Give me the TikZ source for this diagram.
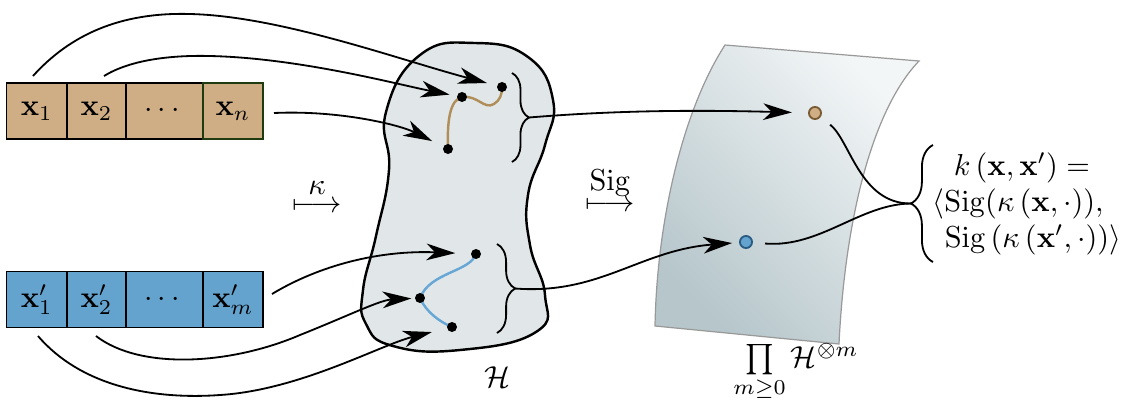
\documentclass[tikz,border=0pt]{standalone}
\usepackage{amsmath, amssymb}
\usepackage{mathtools}
\usepackage{tikz}
\usetikzlibrary{arrows.meta, decorations.pathreplacing}

\definecolor{tanfill}{RGB}{207,174,133}
\definecolor{tanline}{RGB}{176,142,90}
\definecolor{tandark}{RGB}{120,90,50}
\definecolor{bluefill}{RGB}{99,163,206}
\definecolor{blueline}{RGB}{102,167,214}
\definecolor{bluedark}{RGB}{40,90,130}
\definecolor{blobfill}{RGB}{225,230,232}
\definecolor{sheetlight}{RGB}{243,246,247}
\definecolor{sheetdark}{RGB}{182,198,203}
\definecolor{cellgreen}{RGB}{30,60,15}

\tikzset{
    cell/.style={draw, semithick, inner sep=0pt, minimum height=18.5pt},
    vertex/.style={circle, fill=black, inner sep=0pt, minimum size=3.3pt},
    arr/.style={-{Stealth[length=9.5pt, width=5.5pt, inset=2.8pt]}, semithick},
    brc/.style={decorate, decoration={brace, amplitude=#1}, semithick}
}

\begin{document}
\begin{tikzpicture}[x=0.33pt, y={(0pt,-0.33pt)}]
        \useasboundingbox (0,0) rectangle (1124,416);

        % feature space of signatures
        \path[draw=gray!80, top color=sheetlight, bottom color=sheetdark, shading angle=-45]
            (725,45) -- (919,61) .. controls (872,110) and (845,220) .. (839,344)
            -- (655,326) .. controls (657,220) and (683,110) .. (725,45) -- cycle;

        % RKHS
        \draw[thick, fill=blobfill] plot[smooth cycle, tension=0.8] coordinates {
            (475,43) (528,57) (553,100) (545,145) (528,195) (530,245) (545,295) (536,332)
            (460,350) (393,346) (366,324) (363,290) (376,236) (389,170) (386,112) (420,55)};

        % sequences
        \node[cell, fill=tanfill, minimum width=20pt]   at (36.75,111) (x1) {$\mathbf{x}_1$};
        \node[cell, fill=tanfill, minimum width=19.5pt] at (96.5,111)  (x2) {$\mathbf{x}_2$};
        \node[cell, fill=tanfill, minimum width=25.4pt] at (164.5,111) (xd) {$\cdots$};
        \node[cell, fill=tanfill, minimum width=19.8pt, draw=cellgreen] at (233,111) (xn) {$\mathbf{x}_n$};

        \node[cell, fill=bluefill, minimum width=20pt]   at (36.75,299.5) (y1) {$\mathbf{x}'_1$};
        \node[cell, fill=bluefill, minimum width=19.5pt] at (96.5,299.5)  (y2) {$\mathbf{x}'_2$};
        \node[cell, fill=bluefill, minimum width=25.4pt] at (164.5,299.5) (yd) {$\cdots$};
        \node[cell, fill=bluefill, minimum width=19.8pt] at (233,299.5)   (ym) {$\mathbf{x}'_m$};

        % lifted paths
        \coordinate (pa) at (462,97);
        \coordinate (pb) at (502,87);
        \coordinate (pc) at (448,149);
        \coordinate (qd) at (476,254);
        \coordinate (qe) at (420,298);
        \coordinate (qf) at (452,327);
        \draw[tanline, thick] (pc) .. controls (447,120) and (450,100) .. (pa)
            .. controls (478,95) and (484,110) .. (494,104) .. controls (500,100) and (502,95) .. (pb);
        \draw[blueline, thick] (qd) .. controls (470,272) and (430,272) .. (qe)
            .. controls (426,312) and (440,322) .. (qf);
        \node[vertex] at (pa) (a) {};
        \node[vertex] at (pb) (b) {};
        \node[vertex] at (pc) (c) {};
        \node[vertex] at (qd) (d) {};
        \node[vertex] at (qe) (e) {};
        \node[vertex] at (qf) (f) {};

        % braces
        \draw[brc=5.6pt] (512,73) -- (512,162);
        \draw[brc=6pt] (497,244) -- (497,333);
        \draw[brc=7.3pt] (933,262) -- (933,145);
        \coordinate (ubr) at (529,117.5);
        \coordinate (lbr) at (515,288.5);
        \coordinate (kbr) at (911,203.5);

        % points in the feature space
        \node[circle, inner sep=0pt, minimum size=4pt, fill=tanfill, draw=tandark, semithick] at (815,113) (sx) {};
        \node[circle, inner sep=0pt, minimum size=4pt, fill=bluefill, draw=bluedark, semithick] at (746,242) (sy) {};

        % embedding arrows
        \coordinate (s1) at (33,76);
        \coordinate (s2) at (104,76);
        \coordinate (s3) at (274,113);
        \coordinate (s4) at (272,294);
        \coordinate (s5) at (96,336);
        \coordinate (s6) at (38,336);
        \draw[arr, shorten >=3.3pt] (s1) .. controls (70,35) and (120,12) .. (190,14)
            .. controls (280,16) and (400,60) .. (b);
        \draw[arr, shorten >=2.3pt] (s2) .. controls (130,60) and (170,55) .. (210,56)
            .. controls (300,58) and (400,85) .. (a);
        \draw[arr, shorten >=4pt] (s3) .. controls (340,110) and (400,125) .. (c);
        \draw[arr, shorten >=5pt] (s4) .. controls (320,265) and (380,250) .. (d);
        \draw[arr, shorten >=1pt] (s5) .. controls (140,370) and (230,365) .. (300,335)
            .. controls (350,315) and (380,300) .. (e);
        \draw[arr, shorten >=5pt] (s6) .. controls (80,385) and (150,400) .. (220,395)
            .. controls (300,390) and (380,345) .. (f);

        \draw[arr, shorten >=5.3pt] (ubr) .. controls (620,110) and (700,110) .. (sx);
        \draw[arr, shorten >=2.3pt] (lbr) .. controls (600,295) and (640,250) .. (sy);

        \draw[semithick, shorten <=4pt] (sx) .. controls (850,140) and (860,204) .. (kbr);
        \draw[semithick, shorten <=4pt] (sy) .. controls (820,248) and (860,204) .. (kbr);

        % maps and labels
        \node[inner sep=0pt] at (317,207) (kappa) {$\longmapsto$};
        \node[inner sep=0pt, above=2pt] at (kappa.north) (kappalab) {$\kappa$};
        \node[inner sep=0pt] at (610,206) (sig) {$\longmapsto$};
        \node[inner sep=0pt, above=1pt] at (sig.north) (siglab) {$\mathrm{Sig}$};
        \node at (497,377) (hlab) {$\mathcal{H}$};
        \node at (796,372) (tlab) {$\prod\limits_{m\geq 0}\mathcal{H}^{\otimes m}$};
        \node[align=left, anchor=west] at (922,204) (klab) {\hspace*{7pt}$k\left(\mathbf{x},\mathbf{x}'\right) =$\\
            $\langle\mathrm{Sig}(\kappa\left(\mathbf{x},\cdot\right)),$\\
            \hspace*{4pt}$\mathrm{Sig}\left(\kappa\left(\mathbf{x}',\cdot\right)\right)\rangle$};
    \end{tikzpicture}
\end{document}
